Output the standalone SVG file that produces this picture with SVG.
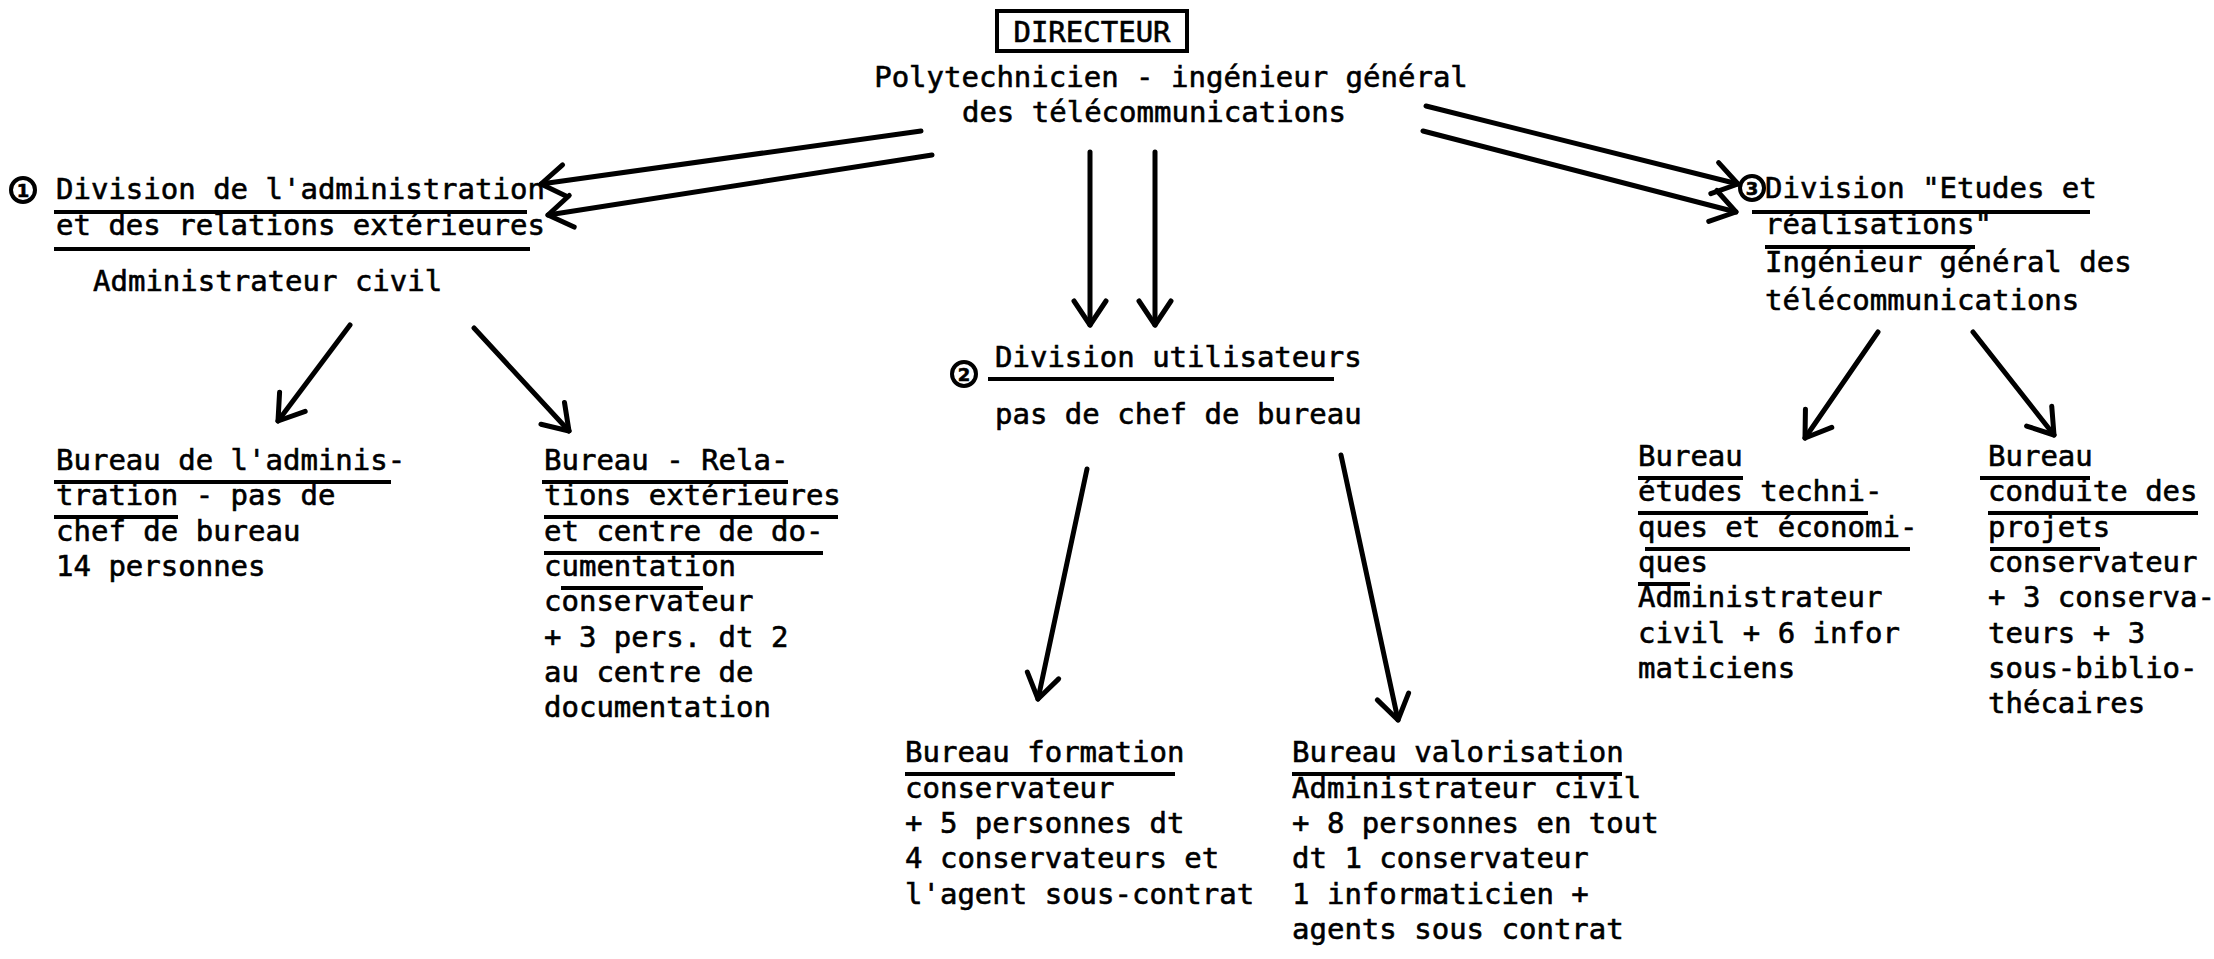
<svg xmlns="http://www.w3.org/2000/svg" width="2214" height="959" viewBox="0 0 2214 959">
<defs>
<style>
text{font-family:"DejaVu Sans Mono","Liberation Mono",monospace;font-size:29px;fill:#000;stroke:#000;stroke-width:0.6}
.ul{stroke:#000;stroke-width:4;fill:none}
.cn{stroke:#000;stroke-width:5;fill:none;stroke-linecap:round}
.num{font-family:"DejaVu Sans","Liberation Sans",sans-serif;font-size:18px;font-weight:bold;text-anchor:middle}
.circ{stroke:#000;stroke-width:4;fill:none}
</style>
<marker id="ah" markerUnits="userSpaceOnUse" markerWidth="50" markerHeight="50" viewBox="-35 -25 50 50" refX="0" refY="0" orient="auto">
<path d="M -24 -16 L 0 0 L -24 16" stroke="#000" stroke-width="5" fill="none" stroke-linecap="round" stroke-linejoin="round"/>
</marker>
</defs>
<rect width="2214" height="959" fill="#fff"/>

<g id="directeur">
<rect x="997" y="11" width="190" height="40" fill="none" stroke="#000" stroke-width="4"/>
<text x="1092" y="42" text-anchor="middle">DIRECTEUR</text>
<text x="1171" y="87" text-anchor="middle">Polytechnicien - ingénieur général</text>
<text x="1154" y="122" text-anchor="middle">des télécommunications</text>
</g>

<g id="division1">
<circle class="circ" cx="23" cy="190" r="12"/>
<text class="num" x="23" y="197">1</text>
<text x="56" y="199">Division de l'administration</text>
<line class="ul" x1="54" y1="212" x2="527" y2="212"/>
<text x="56" y="235">et des relations extérieures</text>
<line class="ul" x1="54" y1="249" x2="530" y2="249"/>
<text x="93" y="291">Administrateur civil</text>
</g>

<g id="division2">
<circle class="circ" cx="964" cy="374" r="12"/>
<text class="num" x="964" y="381">2</text>
<text x="995" y="367">Division utilisateurs</text>
<line class="ul" x1="988" y1="379" x2="1334" y2="379"/>
<text x="995" y="424">pas de chef de bureau</text>
</g>

<g id="division3">
<circle class="circ" cx="1752" cy="188" r="12"/>
<text class="num" x="1752" y="195">3</text>
<text x="1765" y="198">Division "Etudes et</text>
<line class="ul" x1="1752" y1="212" x2="2090" y2="212"/>
<text x="1765" y="234">réalisations"</text>
<line class="ul" x1="1765" y1="247" x2="1975" y2="247"/>
<text x="1765" y="272">Ingénieur général des</text>
<text x="1765" y="310">télécommunications</text>
</g>

<g id="bureau-administration">
<text x="56" y="470">Bureau de l'adminis-</text>
<line class="ul" x1="54" y1="482" x2="391" y2="482"/>
<text x="56" y="505">tration - pas de</text>
<line class="ul" x1="54" y1="517" x2="178" y2="517"/>
<text x="56" y="541">chef de bureau</text>
<text x="56" y="576">14 personnes</text>
</g>

<g id="bureau-relations">
<text x="544" y="470">Bureau - Rela-</text>
<line class="ul" x1="542" y1="482" x2="788" y2="482"/>
<text x="544" y="505">tions extérieures</text>
<line class="ul" x1="544" y1="517" x2="838" y2="517"/>
<text x="544" y="541">et centre de do-</text>
<line class="ul" x1="544" y1="553" x2="823" y2="553"/>
<text x="544" y="576">cumentation</text>
<line class="ul" x1="561" y1="588" x2="703" y2="588"/>
<text x="544" y="611">conservateur</text>
<text x="544" y="647">+ 3 pers. dt 2</text>
<text x="544" y="682">au centre de</text>
<text x="544" y="717">documentation</text>
</g>

<g id="bureau-formation">
<text x="905" y="762">Bureau formation</text>
<line class="ul" x1="905" y1="774" x2="1175" y2="774"/>
<text x="905" y="798">conservateur</text>
<text x="905" y="833">+ 5 personnes dt</text>
<text x="905" y="868">4 conservateurs et</text>
<text x="905" y="904">l'agent sous-contrat</text>
</g>

<g id="bureau-valorisation">
<text x="1292" y="762">Bureau valorisation</text>
<line class="ul" x1="1292" y1="774" x2="1622" y2="774"/>
<text x="1292" y="798">Administrateur civil</text>
<text x="1292" y="833">+ 8 personnes en tout</text>
<text x="1292" y="868">dt 1 conservateur</text>
<text x="1292" y="904">1 informaticien +</text>
<text x="1292" y="939">agents sous contrat</text>
</g>

<g id="bureau-etudes">
<text x="1638" y="466">Bureau</text>
<line class="ul" x1="1638" y1="478" x2="1743" y2="478"/>
<text x="1638" y="501">études techni-</text>
<line class="ul" x1="1638" y1="513" x2="1868" y2="513"/>
<text x="1638" y="537">ques et économi-</text>
<line class="ul" x1="1645" y1="549" x2="1910" y2="549"/>
<text x="1638" y="572">ques</text>
<line class="ul" x1="1638" y1="584" x2="1690" y2="584"/>
<text x="1638" y="607">Administrateur</text>
<text x="1638" y="643">civil + 6 infor</text>
<text x="1638" y="678">maticiens</text>
</g>

<g id="bureau-conduite">
<text x="1988" y="466">Bureau</text>
<line class="ul" x1="1980" y1="478" x2="2090" y2="478"/>
<text x="1988" y="501">conduite des</text>
<line class="ul" x1="1988" y1="513" x2="2198" y2="513"/>
<text x="1988" y="537">projets</text>
<line class="ul" x1="1990" y1="549" x2="2100" y2="549"/>
<text x="1988" y="572">conservateur</text>
<text x="1988" y="607">+ 3 conserva-</text>
<text x="1988" y="643">teurs + 3</text>
<text x="1988" y="678">sous-biblio-</text>
<text x="1988" y="713">thécaires</text>
</g>

<g id="connectors">
<line class="cn" x1="921" y1="131" x2="541" y2="184" marker-end="url(#ah)"/>
<line class="cn" x1="932" y1="155" x2="548" y2="215" marker-end="url(#ah)"/>
<line class="cn" x1="1090" y1="152" x2="1090" y2="325" marker-end="url(#ah)"/>
<line class="cn" x1="1155" y1="152" x2="1155" y2="325" marker-end="url(#ah)"/>
<line class="cn" x1="1426" y1="106" x2="1738" y2="184" marker-end="url(#ah)"/>
<line class="cn" x1="1423" y1="131" x2="1736" y2="212" marker-end="url(#ah)"/>
<line class="cn" x1="350" y1="325" x2="278" y2="421" marker-end="url(#ah)"/>
<line class="cn" x1="474" y1="328" x2="569" y2="431" marker-end="url(#ah)"/>
<line class="cn" x1="1087" y1="469" x2="1038" y2="699" marker-end="url(#ah)"/>
<line class="cn" x1="1341" y1="455" x2="1398" y2="720" marker-end="url(#ah)"/>
<line class="cn" x1="1878" y1="332" x2="1805" y2="438" marker-end="url(#ah)"/>
<line class="cn" x1="1973" y1="332" x2="2054" y2="435" marker-end="url(#ah)"/>
</g>
</svg>
